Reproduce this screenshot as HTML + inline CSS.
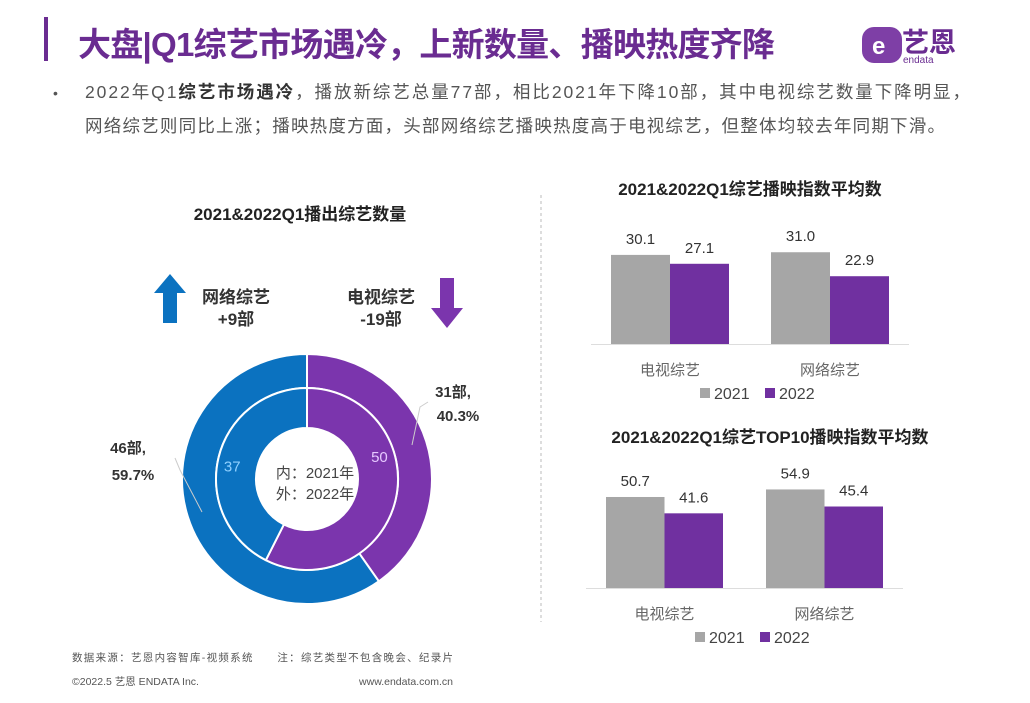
<!DOCTYPE html>
<html><head><meta charset="utf-8">
<style>
body{margin:0;width:1030px;height:703px;background:#fff;overflow:hidden;font-family:"Liberation Sans","Noto Sans CJK SC",sans-serif;}
svg{position:absolute;left:0;top:0}
</style></head><body>
<svg id="s" width="1030" height="703">
<rect x="44" y="17" width="4" height="44" fill="#6a2c91"/>
<text x="78" y="56" font-size="33" font-weight="bold" fill="#6a2c91" textLength="697">大盘|Q1综艺市场遇冷，上新数量、播映热度齐降</text>
<g>
<rect x="862" y="27" width="40" height="36" rx="12" fill="#7e3fa6"/>
<text x="872" y="54" font-size="24" font-weight="bold" fill="#fff">e</text>
<text x="902" y="52" font-size="27" font-weight="bold" fill="#6a2c91">艺恩</text>
<text x="903" y="63" font-size="10" fill="#6a2c91">endata</text>
</g>
<text x="53" y="98" font-size="14" fill="#555">•</text>
<text x="85" y="98" font-size="17.5" fill="#555" textLength="885">2022年Q1<tspan font-weight="bold" fill="#333">综艺市场遇冷</tspan>，播放新综艺总量77部，相比2021年下降10部，其中电视综艺数量下降明显，</text>
<text x="85" y="132" font-size="17.5" fill="#555" textLength="860">网络综艺则同比上涨；播映热度方面，头部网络综艺播映热度高于电视综艺，但整体均较去年同期下滑。</text>
<line x1="541" y1="195" x2="541" y2="622" stroke="#bbb" stroke-dasharray="3,3"/>
<text x="300" y="220" font-size="17" font-weight="bold" fill="#222" text-anchor="middle">2021&amp;2022Q1播出综艺数量</text>
<path d="M170 274 L186 293 L177 293 L177 323 L163 323 L163 293 L154 293 Z" fill="#0b72c0"/>
<text x="236" y="303" font-size="17" font-weight="bold" fill="#333" text-anchor="middle">网络综艺</text>
<text x="236" y="325" font-size="17" font-weight="bold" fill="#333" text-anchor="middle">+9部</text>
<text x="381" y="303" font-size="17" font-weight="bold" fill="#333" text-anchor="middle">电视综艺</text>
<text x="381" y="325" font-size="17" font-weight="bold" fill="#333" text-anchor="middle">-19部</text>
<path d="M447 328 L463 308 L454 308 L454 278 L440 278 L440 308 L431 308 Z" fill="#7b35ad"/>
<g id="donut"></g>
<text x="315" y="478" font-size="15" fill="#444" text-anchor="middle">内：2021年</text>
<text x="315" y="499" font-size="15" fill="#444" text-anchor="middle">外：2022年</text>
<text x="453" y="397" font-size="15" font-weight="bold" fill="#333" text-anchor="middle">31部,</text>
<text x="458" y="421" font-size="15" font-weight="bold" fill="#333" text-anchor="middle">40.3%</text>
<text x="128" y="453" font-size="15" font-weight="bold" fill="#333" text-anchor="middle">46部,</text>
<text x="133" y="480" font-size="15" font-weight="bold" fill="#333" text-anchor="middle">59.7%</text>
<path d="M428 402 L420 407 L412 445" stroke="#ccc" fill="none"/>
<path d="M175 458 L180 470 L202 512" stroke="#ccc" fill="none"/>
<g id="bars"></g>
<text x="72" y="661" font-size="10.5" fill="#555" textLength="381">数据来源：艺恩内容智库-视频系统　　注：综艺类型不包含晚会、纪录片</text>
<text x="72" y="685" font-size="10.5" fill="#555">©2022.5 艺恩 ENDATA Inc.</text>
<text x="453" y="685" font-size="10.5" fill="#555" text-anchor="end">www.endata.com.cn</text>
</svg>
<script>
const NS="http://www.w3.org/2000/svg";
const donutCats=["电视综艺","网络综艺"];
const inner2021=[50,37];
const outer2022=[31,46];
const donutColors=["#7b35ad","#0b72c0"];
const cx=307,cy=479;
function arc(r0,r1,a0,a1){
 const p=(r,a)=>[cx+r*Math.sin(a),cy-r*Math.cos(a)];
 const L=a1-a0>Math.PI?1:0;
 const [x1,y1]=p(r1,a0),[x2,y2]=p(r1,a1),[x3,y3]=p(r0,a1),[x4,y4]=p(r0,a0);
 return `M${x1} ${y1}A${r1} ${r1} 0 ${L} 1 ${x2} ${y2}L${x3} ${y3}A${r0} ${r0} 0 ${L} 0 ${x4} ${y4}Z`;
}
const dg=document.getElementById('donut');
const lblFrac=[0.35,0.48];
function ring(vals,r0,r1,nm,showLbl){
 const t=vals.reduce((a,b)=>a+b,0);let a=0;
 vals.forEach((v,i)=>{
  const a1=a+v/t*2*Math.PI;
  const p=document.createElementNS(NS,'path');
  p.setAttribute('d',arc(r0,r1,a,a1));p.setAttribute('fill',donutColors[i]);
  p.setAttribute('stroke','#fff');p.setAttribute('stroke-width','2');
  
  
  dg.appendChild(p);
  if(showLbl){
   const m=a+(a1-a)*lblFrac[i],r=(r0+r1)/2+5;
   const tx=document.createElementNS(NS,'text');
   tx.setAttribute('x',cx+r*Math.sin(m));tx.setAttribute('y',cy-r*Math.cos(m)+6);
   tx.setAttribute('text-anchor','middle');tx.setAttribute('font-size','15');
   tx.setAttribute('fill',i==0?'#e6c8ff':'#8fd0ff');tx.textContent=v;
   
   
   dg.appendChild(tx);
  }
  a=a1;
 });
}
ring(outer2022,91,125,'outer-2022',false);
ring(inner2021,51,91,'inner-2021',true);

const barCats=["电视综艺","网络综艺"];
const avg2021=[30.1,31.0];
const avg2022=[27.1,22.9];
const top2021=[50.7,54.9];
const top2022=[41.6,45.4];
const bg=document.getElementById('bars');
function add(tag,attrs,txt){const e=document.createElementNS(NS,tag);for(const k in attrs)e.setAttribute(k,attrs[k]);if(txt!=null)e.textContent=txt;bg.appendChild(e);return e;}
function chart(cfg){
 const {title,ty,base,scale,x0,step,bw,s1,s2,tx,nm}=cfg;
 let e=add('text',{x:tx,y:ty,'font-size':17,'font-weight':'bold',fill:'#222','text-anchor':'middle'},title);
 
 
 e=add('line',{x1:x0-20,y1:base+0.5,x2:x0+step+2*bw+20,y2:base+0.5,stroke:'#ddd'});
 
 
 barCats.forEach((c,i)=>{
  [[s1,'#a6a6a6','2021'],[s2,'#7030a0','2022']].forEach(([s,col,yr],j)=>{
   const h=s[i]*scale,x=x0+i*step+j*bw;
   let r=add('rect',{x:x,y:base-h,width:bw,height:h,fill:col});
   
   
   let t=add('text',{x:x+bw/2,y:base-h-11,'font-size':15,fill:'#333','text-anchor':'middle'},s[i].toFixed(1));
   
   
  });
  let l=add('text',{x:x0+i*step+bw,y:base+31,'font-size':15,fill:'#666','text-anchor':'middle'},c);
  
  
 });
 const ly=base+55,lx=x0+113;
 let g=add('rect',{x:lx-24,y:ly-11,width:10,height:10,fill:'#a6a6a6'});
 
 
 add('text',{x:lx-10,y:ly,'font-size':16,fill:'#444'},'2021');
 g=add('rect',{x:lx+41,y:ly-11,width:10,height:10,fill:'#7030a0'});
 
 
 add('text',{x:lx+55,y:ly,'font-size':16,fill:'#444'},'2022');
}
chart({title:'2021&2022Q1综艺播映指数平均数',tx:750,ty:195,base:344,scale:2.96,x0:611,step:160,bw:59,s1:avg2021,s2:avg2022,nm:'avg-index'});
chart({title:'2021&2022Q1综艺TOP10播映指数平均数',tx:770,ty:443,base:588,scale:1.795,x0:606,step:160,bw:58.5,s1:top2021,s2:top2022,nm:'top10-index'});
</script>
</body></html>
